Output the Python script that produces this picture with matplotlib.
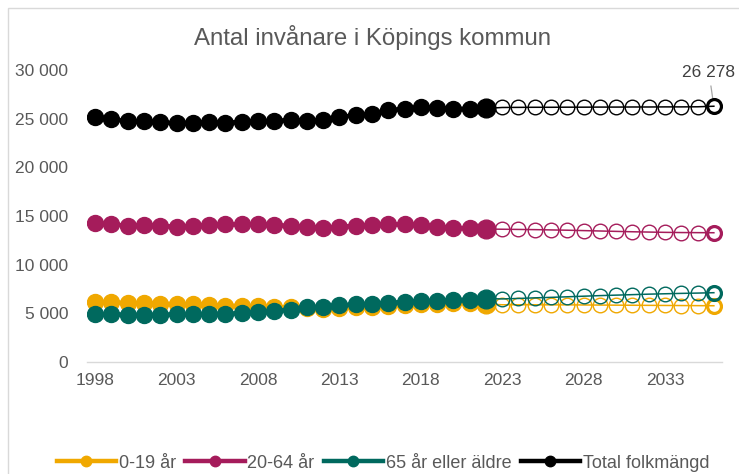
import matplotlib
matplotlib.use("Agg")
import matplotlib.pyplot as plt
from matplotlib.patches import Rectangle
from matplotlib.lines import Line2D

plt.rcParams['font.family'] = ['Liberation Sans', 'DejaVu Sans']

years_hist = list(range(1998, 2023))
years_fc = list(range(2023, 2037))

series_names = ["0-19 år", "20-64 år", "65 år eller äldre", "Total folkmängd"]
colors = ["#F0A800", "#A51C5B", "#00695E", "#000000"]

young_hist = [6200, 6130, 6060, 6030, 5990, 5960, 5920, 5860, 5790, 5750, 5720, 5650, 5600,
              5520, 5480, 5520, 5600, 5680, 5760, 5860, 5940, 5980, 6040, 6060, 5960]
young_fc = [5880, 5880, 5880, 5870, 5870, 5860, 5850, 5840, 5830, 5820, 5810, 5800, 5790, 5780]

adult_hist = [14240, 14140, 14000, 14070, 14000, 13900, 14000, 14070, 14140, 14140, 14140, 14070, 14000,
              13900, 13790, 13900, 14000, 14070, 14140, 14140, 14070, 13900, 13790, 13730, 13660]
adult_fc = [13640, 13620, 13600, 13570, 13540, 13500, 13460, 13420, 13380, 13350, 13320, 13300, 13290, 13280]

old_hist = [4900, 4900, 4870, 4830, 4870, 4900, 4900, 4930, 4960, 5030, 5100, 5240, 5390,
            5600, 5700, 5820, 5920, 6000, 6080, 6180, 6280, 6300, 6360, 6420, 6520]
old_fc = [6480, 6530, 6590, 6640, 6700, 6760, 6820, 6870, 6920, 6970, 7010, 7050, 7080, 7120]

total_hist = [25190, 24920, 24760, 24720, 24620, 24530, 24600, 24620, 24580, 24680, 24720, 24790, 24850,
              24790, 24850, 25190, 25330, 25470, 25880, 26010, 26150, 26080, 26010, 26010, 26050]
total_fc = [26150, 26160, 26170, 26170, 26180, 26180, 26190, 26190, 26200, 26200, 26210, 26210, 26220, 26278]

yticks = [0, 5000, 10000, 15000, 20000, 25000, 30000]
ytick_labels = ["0", "5 000", "10 000", "15 000", "20 000", "25 000", "30 000"]
xticks = [1998, 2003, 2008, 2013, 2018, 2023, 2028, 2033]

hist = [young_hist, adult_hist, old_hist, total_hist]
fc = [young_fc, adult_fc, old_fc, total_fc]

W, H = 739, 474
fig = plt.figure(figsize=(W / 100, H / 100), dpi=100)
ax = fig.add_axes([87 / W, 1 - 362 / H, (722 - 87) / W, (362 - 70) / H])

# chart frame (light border, cropped at right/bottom)
fig.patches.append(Rectangle((8 / W, -0.1), 1.2, 1.1 - 8 / H, transform=fig.transFigure,
                             fill=False, edgecolor="#D9D9D9", linewidth=1.0))

handles = []
for i in range(4):
    c = colors[i]
    # historical
    ax.plot(years_hist, hist[i], color=c, linewidth=3.2, zorder=2 + i)
    ax.plot(years_hist[:-1], hist[i][:-1], linestyle="none", marker="o", markersize=11.5,
            markerfacecolor=c, markeredgecolor=c, zorder=2 + i)
    ax.plot(years_hist[-1:], hist[i][-1:], linestyle="none", marker="o", markersize=13.5,
            markerfacecolor=c, markeredgecolor=c, zorder=2 + i)
    # forecast
    ax.plot([years_hist[-1]] + years_fc, [hist[i][-1]] + fc[i], color=c, linewidth=1.1, zorder=1 + i)
    ax.plot(years_fc[:-1], fc[i][:-1], linestyle="none", marker="o", markersize=10.5,
            markerfacecolor="none", markeredgecolor=c, markeredgewidth=1.0, zorder=2 + i)
    ax.plot(years_fc[-1:], fc[i][-1:], linestyle="none", marker="o", markersize=10,
            markerfacecolor="none", markeredgecolor=c, markeredgewidth=2.3, zorder=2 + i)
    handles.append(Line2D([0], [0], color=c, linewidth=3.2, marker="o", markersize=7.5,
                          markerfacecolor=c, markeredgecolor=c))

ax.annotate(f"{total_fc[-1]:,}".replace(",", " "), xy=(years_fc[-1], total_fc[-1]),
            xytext=(-3.5, 24), textcoords="offset points", ha="center", va="center",
            fontsize=12.5, color="#404040",
            arrowprops=dict(arrowstyle="-", color="#A6A6A6", linewidth=0.9,
                            shrinkA=2, shrinkB=6))

ax.set_xlim(1997.5, 2036.5)
ax.set_ylim(0, 30000)
ax.set_xticks(xticks)
ax.set_xticklabels([str(x) for x in xticks])
ax.set_yticks(yticks)
ax.set_yticklabels(ytick_labels)
ax.tick_params(axis="both", length=0, labelsize=12.5, colors="#595959")
ax.tick_params(axis="y", pad=13.5)
ax.tick_params(axis="x", pad=8)
for s in ["top", "right", "left"]:
    ax.spines[s].set_visible(False)
ax.spines["bottom"].set_color("#D9D9D9")
ax.spines["bottom"].set_linewidth(1.0)
ax.patch.set_alpha(0)

fig.text(372 / W, 1 - 38 / H, "Antal invånare i Köpings kommun", ha="center", va="center",
         fontsize=17.3, color="#595959")

fig.legend(handles, series_names, loc="center", bbox_to_anchor=(383 / W, 1 - 463 / H), ncol=4,
           frameon=False, fontsize=13, handlelength=3.3, handletextpad=0.15,
           columnspacing=0.5, labelcolor="#595959", borderaxespad=0)

fig.savefig("out.png", dpi=100)
